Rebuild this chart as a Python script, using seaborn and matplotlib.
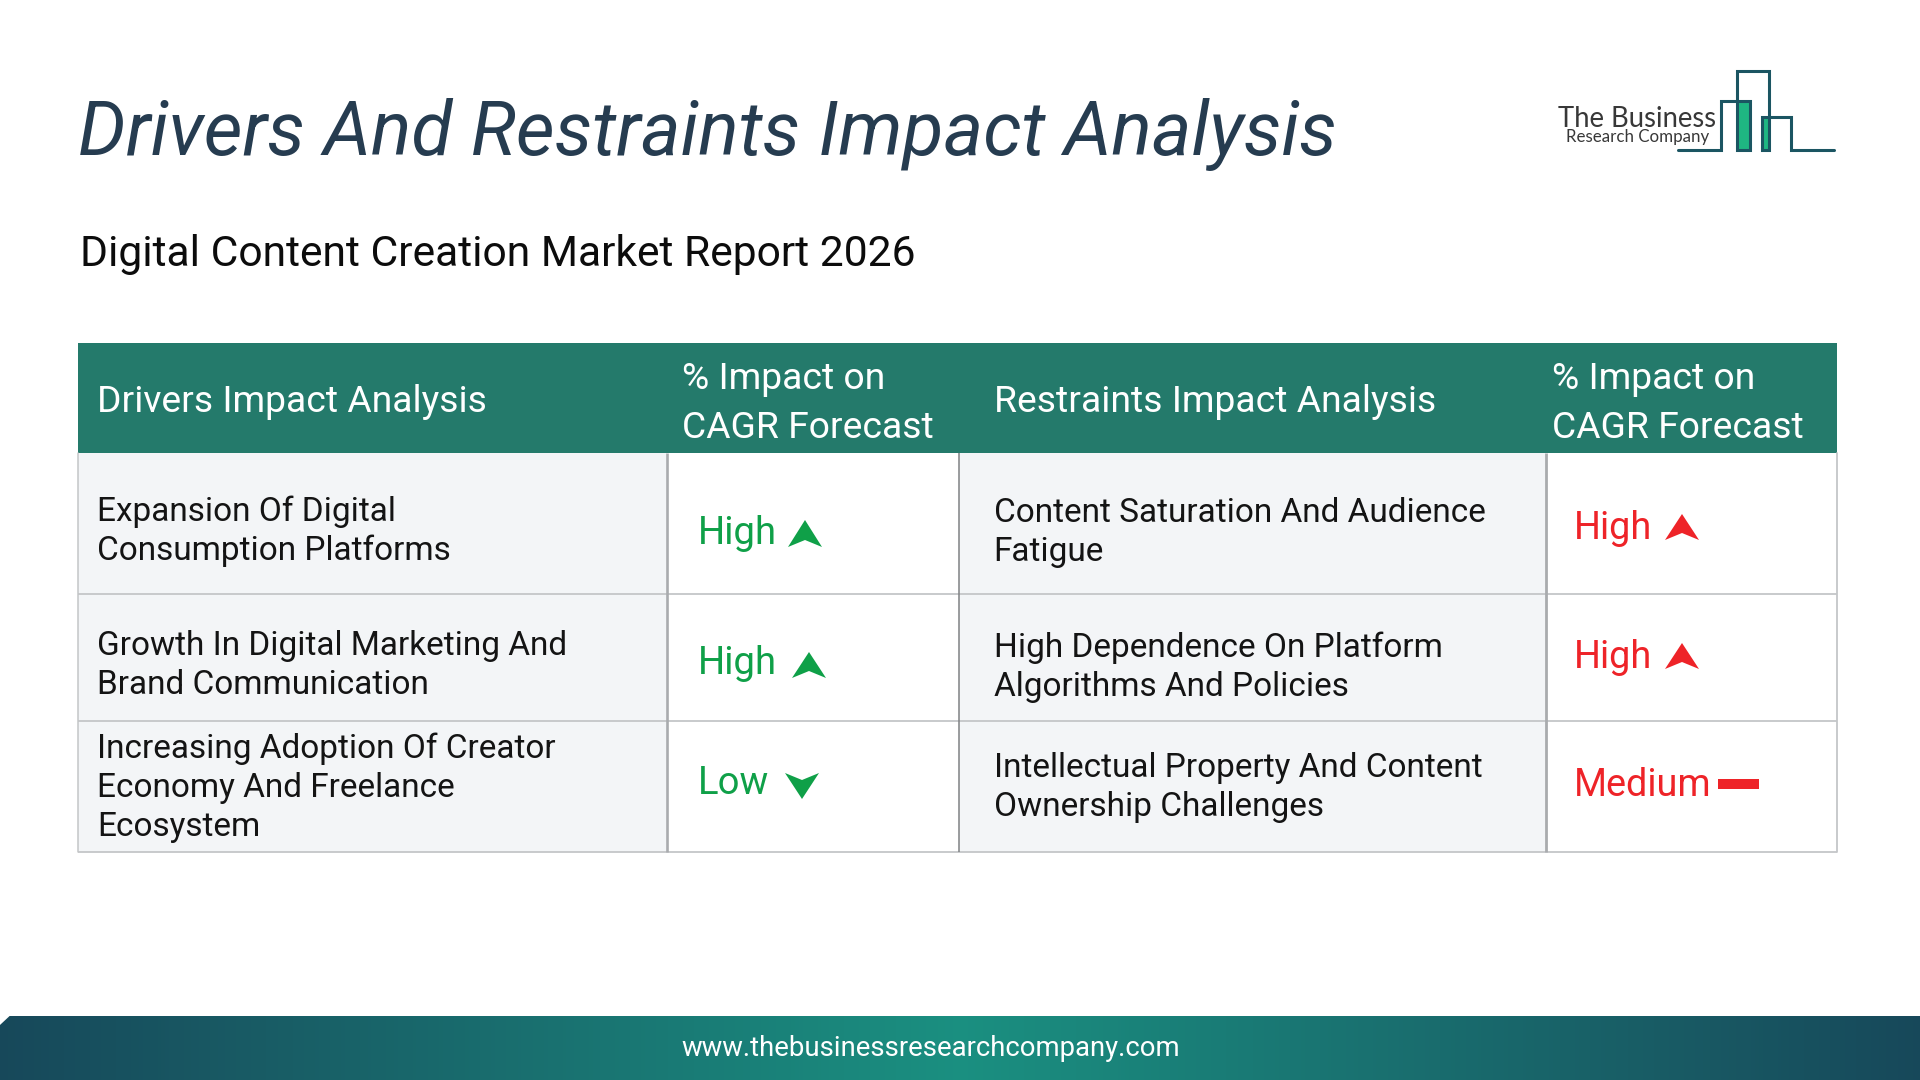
import numpy as np
import matplotlib
matplotlib.use("Agg")
import matplotlib.pyplot as plt
from matplotlib.colors import LinearSegmentedColormap
from matplotlib.patches import Rectangle, Polygon
import seaborn as sns

# ---- content ----
title = "Drivers And Restraints Impact Analysis"
subtitle = "Digital Content Creation Market Report 2026"
header_left = "Drivers Impact Analysis"
header_right = "Restraints Impact Analysis"
header_impact = ["% Impact on", "CAGR Forecast"]
drivers = [["Expansion Of Digital", "Consumption Platforms"],
           ["Growth In Digital Marketing And", "Brand Communication"],
           ["Increasing Adoption Of Creator", "Economy And Freelance", "Ecosystem"]]
driver_impacts = ["High", "High", "Low"]
restraints = [["Content Saturation And Audience", "Fatigue"],
              ["High Dependence On Platform", "Algorithms And Policies"],
              ["Intellectual Property And Content", "Ownership Challenges"]]
restraint_impacts = ["High", "High", "Medium"]
footer = "www.thebusinessresearchcompany.com"
logo_top = "The Business"
logo_bottom = "Research Company"

# ---- layout (pixels) ----
X = [78, 667, 959, 1546, 1836.5]
Y = [343, 453, 594, 721, 852]
driver_base = [[521, 560], [655, 694], [758, 797, 836]]
restraint_base = [[522, 561], [657, 696], [777, 816]]
driver_imp_base = [544, 674, 794]
restraint_imp_base = [539, 668, 796]
GREEN, RED = "#0fa048", "#ee2328"

sns.set_theme(style="white")
plt.rcParams["font.family"] = ["Roboto", "DejaVu Sans"]

fig = plt.figure(figsize=(19.2, 10.8), dpi=100, facecolor="white")
ax = fig.add_axes([0, 0, 1, 1])
ax.set_xlim(0, 1920); ax.set_ylim(1080, 0); ax.axis("off")

# footer gradient
ax_f = fig.add_axes([0, 0, 1, 64 / 1080])
cmap = LinearSegmentedColormap.from_list("foot", ["#1a8f80", "#17485a"])
sns.heatmap(np.abs(np.linspace(-1, 1, 512))[None, :], cmap=cmap, cbar=False, ax=ax_f,
            xticklabels=False, yticklabels=False, vmin=0, vmax=1, rasterized=True)
ax_f.text(931 / 1920, 0.375, footer, transform=ax_f.transAxes, ha="center", va="baseline",
          color="white", fontsize=19.8)
ax_f.add_patch(Polygon([(0, 1), (0, 0.86), (0.005, 1)], transform=ax_f.transAxes,
                       facecolor="white", edgecolor="none"))

# title
ax.text(78, 155, title, fontsize=54.2, style="italic", color="#263c50", va="baseline")
ax.text(80, 266, subtitle, fontsize=30.7, color="#0c0c0c", va="baseline")

# table fills
ax.add_patch(Rectangle((X[0], Y[1]), X[1] - X[0], Y[4] - Y[1], fc="#f3f5f7", ec="none"))
ax.add_patch(Rectangle((X[2], Y[1]), X[3] - X[2], Y[4] - Y[1], fc="#f3f5f7", ec="none"))
ax.add_patch(Rectangle((X[0], Y[0]), X[4] - X[0], Y[1] - Y[0], fc="#247a6b", ec="none"))

# table lines
for y in Y[2:]:
    ax.plot([X[0], X[4]], [y, y], color="#c4c6c8", lw=1.3, solid_capstyle="butt")
ax.plot([X[0], X[0]], [Y[1], Y[4]], color="#c4c6c8", lw=1.1)
ax.plot([X[4], X[4]], [Y[1], Y[4]], color="#c4c6c8", lw=1.3)
for x, c, lw in [(X[1], "#a9abae", 1.9), (X[2], "#7f8184", 1.1), (X[3], "#a9abae", 2.0)]:
    ax.plot([x, x], [Y[1], Y[4]], color=c, lw=lw, solid_capstyle="butt")

# header text
ax.text(97, 412, header_left, color="white", fontsize=26.85, va="baseline")
ax.text(993.5, 412, header_right, color="white", fontsize=26.85, va="baseline")
for x in (682, 1552):
    ax.text(x, 389, header_impact[0], color="white", fontsize=26.85, va="baseline")
    ax.text(x, 438, header_impact[1], color="white", fontsize=26.85, va="baseline")

# rows
for lines, bases in zip(drivers, driver_base):
    for t, b in zip(lines, bases):
        ax.text(97, b, t, fontsize=24.05, color="#141414", va="baseline")
for lines, bases in zip(restraints, restraint_base):
    for t, b in zip(lines, bases):
        ax.text(993.5, b, t, fontsize=24.05, color="#141414", va="baseline")

def arrow(cx, tip, base, notch, color):
    ax.add_patch(Polygon([(cx, tip), (cx + 17, base), (cx, notch), (cx - 17, base)],
                         closed=True, fc=color, ec="none"))

for t, b in zip(driver_impacts, driver_imp_base):
    ax.text(698, b, t, fontsize=27.5, color=GREEN, va="baseline")
for t, b in zip(restraint_impacts, restraint_imp_base):
    ax.text(1574, b, t, fontsize=27.3, color=RED, va="baseline")

arrow(805, 520, 547, 540, GREEN)
arrow(809, 652, 678, 671, GREEN)
arrow(802, 799, 773, 780, GREEN)
arrow(1682, 514, 540, 533, RED)
arrow(1682, 643, 669, 662, RED)
ax.add_patch(Rectangle((1718, 779), 41, 10, fc=RED, ec="none"))

# logo
ax.add_patch(Rectangle((1737, 101), 13, 49, fc="#1fb682", ec="none"))
ax.add_patch(Rectangle((1762, 117), 7, 33, fc="#1fb682", ec="none"))
px = [1678, 1721, 1721, 1750, 1750, 1737, 1737, 1769, 1769, 1762, 1762, 1791, 1791, 1834]
py = [150, 150, 101, 101, 150, 150, 71, 71, 150, 150, 117, 117, 150, 150]
ax.plot(px, py, color="#1b5562", lw=2.2, solid_joinstyle="miter")
ax.text(1558, 127, logo_top, fontsize=19.8, color="#383838", va="baseline", family=["Lato", "DejaVu Sans"])
ax.text(1566, 142, logo_bottom, fontsize=12.2, color="#383838", va="baseline", family=["Lato", "DejaVu Sans"])

fig.savefig("out.png", dpi=100, facecolor="white")
